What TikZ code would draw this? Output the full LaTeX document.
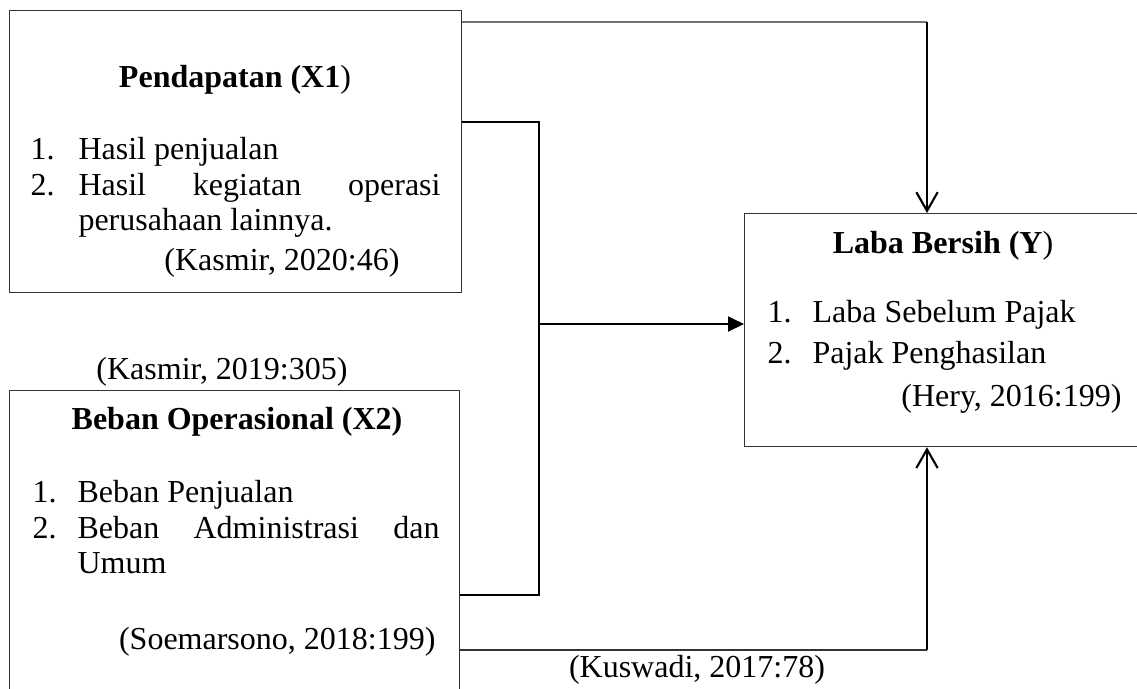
\documentclass[tikz,border=0pt]{standalone}
\usepackage{fontspec}
\setmainfont{Liberation Serif}
\usepackage{xcolor}
\usetikzlibrary{arrows.meta, positioning}

\begin{document}
\begin{tikzpicture}[x=0.375pt, y=-0.375pt,
    every node/.append style={font=\fontsize{12}{13.3}\selectfont},
    varbox/.style={draw=black!80, line width=0.45pt, anchor=north west, inner sep=0pt},
    heading/.style={font=\fontsize{12}{13.3}\selectfont\bfseries, anchor=base, inner sep=0pt},
    listnum/.style={anchor=base west, inner sep=0pt},
    listtext/.style={anchor=base west, inner sep=0pt},
    listpar/.style={anchor=base west, inner sep=0pt, text width=135.75pt, align=justify,
        execute at begin node={\hyphenpenalty=10000\exhyphenpenalty=10000}},
    source/.style={anchor=base, inner sep=0pt},
    link/.style={line width=0.8pt, black},
    thinlink/.style={line width=0.45pt},
    openarrow/.style={-{Straight Barb[length=7pt, width=8pt]}},
    fullarrow/.style={-{Triangle[length=6pt, width=5.6pt]}}]

    \useasboundingbox (0,0) rectangle (1137,688);
    \clip (0,0) rectangle (1137,688);

    % Variable boxes
    \node[varbox, minimum width=169.5pt, minimum height=105.75pt] (pendapatan) at (9,10) {};
    \node[varbox, minimum width=168.75pt, minimum height=116.25pt] (beban) at (9,390) {};
    \node[varbox, minimum width=156pt, minimum height=87.375pt] (laba) at (744,213) {};

    % Pendapatan (X1)
    \node[heading] (judulX1) at (235,87) {Pendapatan (X1\textmd{)}};
    \node[listnum] (numX1a) at (30,159) {1.};
    \node[listtext] (itemX1a) at (78,159) {Hasil penjualan};
    \node[listnum] (numX1b) at (30,195) {2.};
    \node[listpar] (itemX1b) at (78,195) {Hasil kegiatan operasi perusahaan lainnya.};
    \node[source] (srcX1) at (282,270) {(Kasmir, 2020:46)};

    % Beban Operasional (X2)
    \node[source] (srcX2top) at (222,379) {(Kasmir, 2019:305)};
    \node[heading] (judulX2) at (237,429) {Beban Operasional (X2)};
    \node[listnum] (numX2a) at (32,502) {1.};
    \node[listtext] (itemX2a) at (77,502) {Beban Penjualan};
    \node[listnum] (numX2b) at (32,538) {2.};
    \node[listpar] (itemX2b) at (77,538) {Beban Administrasi dan Umum};
    \node[source, anchor=base east] (srcX2) at (436,649) {(Soemarsono, 2018:199)};

    % Laba Bersih (Y)
    \node[heading] (judulY) at (943,253) {Laba Bersih (Y\textmd{)}};
    \node[listnum] (numYa) at (767,322) {1.};
    \node[listtext] (itemYa) at (812,322) {Laba Sebelum Pajak};
    \node[listnum] (numYb) at (767,363) {2.};
    \node[listtext] (itemYb) at (812,363) {Pajak Penghasilan};
    \node[source, anchor=base east] (srcY) at (1122,406) {(Hery, 2016:199)};

    % Turning points of the connectors
    \coordinate (topturn) at (927,22);
    \coordinate (jointop) at (539,122);
    \coordinate (joinmid) at (539,324);
    \coordinate (joinbot) at (539,595);
    \coordinate (botturn) at (927,650);

    % X1 -> Y
    \draw[thinlink, black!55] (pendapatan.east |- topturn) -- (topturn);
    \draw[link, openarrow] (topturn) -- (topturn |- laba.north);

    % X1 and X2 together -> Y
    \draw[link] (pendapatan.east |- jointop) -- (jointop) -- (joinbot) -- (beban.east |- joinbot);
    \draw[link, fullarrow] (joinmid) -- (laba.west |- joinmid);

    % X2 -> Y
    \draw[thinlink, black!80] (beban.east |- botturn) -- (botturn);
    \draw[link, openarrow] (botturn) -- (botturn |- laba.south);
    \node[source] (srcXY) at (697,677) {(Kuswadi, 2017:78)};

\end{tikzpicture}
\end{document}
